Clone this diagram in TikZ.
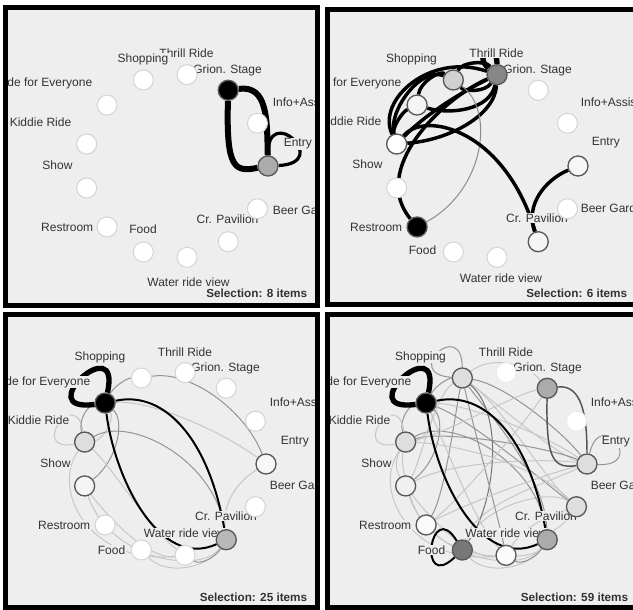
\documentclass[tikz,border=0pt]{standalone}
\usepackage{fontspec}
\setmainfont{Liberation Sans}
\definecolor{panelbg}{HTML}{EEEEEE}
\pgfdeclarelayer{back}
\pgfdeclarelayer{edges}
\pgfdeclarelayer{tags}
\pgfsetlayers{back,edges,tags,main}
\begin{document}
\begin{tikzpicture}[x=0.75pt,y=-0.75pt,
  spot/.style={circle,inner sep=0pt,minimum size=15pt,draw=black!17,line width=0.75pt,fill=white},
  lit/.style={spot,draw=black!65,line width=1pt},
  tag/.style={font=\fontsize{9}{10}\selectfont,text=black!80,fill=panelbg,inner sep=0.4pt},
  tally/.style={font=\fontsize{8.8}{10}\selectfont\bfseries,text=black!80,anchor=east,inner sep=0.4pt},
  panelframe/.style={line width=3.75pt},
  wide/.style={line width=4.5pt},
  firm/.style={line width=2.6pt},
  slim/.style={line width=1.5pt},
  mid/.style={draw=black!42,line width=0.75pt},
  faint/.style={draw=black!22,line width=0.75pt},
  dark/.style={draw=black!67,line width=1.1pt}]
\useasboundingbox (0,0) rectangle (633,610);

\begin{pgfonlayer}{back}
\fill[white] (0,0) rectangle (633,610);
\fill[panelbg] (8,10) rectangle (315,303);
\fill[panelbg] (330,12) rectangle (640,302);
\fill[panelbg] (8,317) rectangle (315,605);
\fill[panelbg] (330,317) rectangle (640,605);
\end{pgfonlayer}

\begin{scope}[shift={(176,166)}]
\node[lit,fill=black!33] (p1en) at (0:92) {};
\node[spot] (p1in) at (-27.7:92) {};
\node[lit,fill=black] (p1gs) at (-55.4:92) {};
\node[spot] (p1th) at (-83.1:92) {};
\node[spot] (p1sh) at (-110.8:92) {};
\node[spot] (p1rf) at (-138.5:92) {};
\node[spot] (p1ki) at (-166.2:92) {};
\node[spot] (p1so) at (166.2:92) {};
\node[spot] (p1re) at (138.5:92) {};
\node[spot] (p1fo) at (110.8:92) {};
\node[spot] (p1wr) at (83.1:92) {};
\node[spot] (p1cp) at (55.4:92) {};
\node[spot] (p1bg) at (27.7:92) {};

\begin{pgfonlayer}{edges}
\draw[wide] (p1gs) .. controls (50,4) and (59,6) .. (p1en);
\draw[wide] (p1gs) .. controls (92,-81) and (91,-46) .. (p1en);
\draw[line width=2.4pt] (p1en) .. controls (157,-3) and (91,-65) .. (p1en);
\end{pgfonlayer}

\begin{pgfonlayer}{tags}
\begin{scope}
\clip (-168,-156) rectangle (139,137);
\node[tag,anchor=west] (p1len) at (107,-22) {Entry};
\node[tag,anchor=west] (p1lin) at (96,-64) {Info+Assistance};
\node[tag] (p1lgs) at (51.5,-96) {Grion. Stage};
\node[tag] (p1lth) at (10.5,-113) {Thrill Ride};
\node[tag] (p1lsh) at (-33,-107) {Shopping};
\node[tag,anchor=east] (p1lrf) at (-83,-83) {Ride for Everyone};
\node[tag,anchor=east] (p1lki) at (-104,-44) {Kiddie Ride};
\node[tag] (p1lso) at (-118.5,-1) {Show};
\node[tag,anchor=east] (p1lre) at (-82,61) {Restroom};
\node[tag] (p1lfo) at (-33,63) {Food};
\node[tag] (p1lwr) at (12.5,116) {Water ride view};
\node[tag] (p1lcp) at (51.5,53) {Cr. Pavilion};
\node[tag,anchor=west] (p1lbg) at (96,44) {Beer Garden};
\node[tally] (p1sel) at (132,127) {Selection: 8 items};
\end{scope}
\end{pgfonlayer}
\end{scope}

\begin{scope}[shift={(486,166)}]
\node[lit,fill=black!3] (p2en) at (0:92) {};
\node[spot] (p2in) at (-27.7:92) {};
\node[spot] (p2gs) at (-55.4:92) {};
\node[lit,fill=black!47] (p2th) at (-83.1:92) {};
\node[lit,fill=black!18] (p2sh) at (-110.8:92) {};
\node[lit,fill=black!4] (p2rf) at (-138.5:92) {};
\node[lit] (p2ki) at (-166.2:92) {};
\node[spot] (p2so) at (166.2:92) {};
\node[lit,fill=black] (p2re) at (138.5:92) {};
\node[spot] (p2fo) at (110.8:92) {};
\node[spot] (p2wr) at (83.1:92) {};
\node[lit,fill=black!4] (p2cp) at (55.4:92) {};
\node[spot] (p2bg) at (27.7:92) {};

\begin{pgfonlayer}{edges}
\draw[firm] (p2th) .. controls (-56,-114) and (-110,-66) .. (p2ki);
\draw[firm] (p2ki) .. controls (-98,-55) and (-65,-100) .. (p2sh);
\draw[firm] (p2th) .. controls (-1,-106) and (-24,-104) .. (p2sh);
\draw[firm] (p2sh) .. controls (-21,-74) and (-1,-74) .. (p2th);
\draw[firm] (p2sh) .. controls (-46,-96) and (-66,-84) .. (p2rf);
\draw[firm] (p2rf) .. controls (-36,-51) and (4,-56) .. (p2th);
\draw[firm] (p2rf) .. controls (-84,-54) and (-94,-38) .. (p2ki);
\draw[firm] (p2ki) .. controls (-56,-56) and (-16,-78) .. (p2th);
\draw[firm] (p2ki) .. controls (-36,-26) and (9,-51) .. (p2th);
\draw[firm] (p2th) .. controls (-46,-66) and (-116,4) .. (p2re);
\draw[black!45,line width=0.75pt] (p2sh) .. controls (9,-56) and (-1,24) .. (p2re);
\draw[firm] (p2ki) .. controls (-61,-56) and (19,-36) .. (p2cp);
\draw[firm] (p2en) .. controls (59,14) and (39,39) .. (p2cp);
\draw[line width=4pt] (p2th) .. controls (-14,-111) and (11,-126) .. (p2th);
\end{pgfonlayer}

\begin{pgfonlayer}{tags}
\begin{scope}
\clip (-156,-154) rectangle (154,136);
\node[tag,anchor=west] (p2len) at (105,-23) {Entry};
\node[tag,anchor=west] (p2lin) at (94,-64) {Info+Assistance};
\node[tag] (p2lgs) at (51.5,-96) {Grion. Stage};
\node[tag] (p2lth) at (10.5,-113) {Thrill Ride};
\node[tag] (p2lsh) at (-74.5,-107) {Shopping};
\node[tag,anchor=east] (p2lrf) at (-84,-83) {Ride for Everyone};
\node[tag,anchor=east] (p2lki) at (-104,-45) {Kiddie Ride};
\node[tag] (p2lso) at (-118.5,-2) {Show};
\node[tag,anchor=east] (p2lre) at (-83,61) {Restroom};
\node[tag,anchor=east] (p2lfo) at (-49,84) {Food};
\node[tag] (p2lwr) at (15,112) {Water ride view};
\node[tag] (p2lcp) at (51,52) {Cr. Pavilion};
\node[tag,anchor=west] (p2lbg) at (94,42) {Beer Garden};
\node[tally] (p2sel) at (142,127) {Selection: 6 items};
\end{scope}
\end{pgfonlayer}
\end{scope}

\begin{scope}[shift={(174,464)}]
\node[lit,fill=black!3] (p3en) at (0:92) {};
\node[spot] (p3in) at (-27.7:92) {};
\node[spot] (p3gs) at (-55.4:92) {};
\node[spot] (p3th) at (-83.1:92) {};
\node[spot] (p3sh) at (-110.8:92) {};
\node[lit,fill=black] (p3rf) at (-138.5:92) {};
\node[lit,fill=black!13] (p3ki) at (-166.2:92) {};
\node[lit,fill=black!4] (p3so) at (166.2:92) {};
\node[spot] (p3re) at (138.5:92) {};
\node[spot] (p3fo) at (110.8:92) {};
\node[spot] (p3wr) at (83.1:92) {};
\node[lit,fill=black!28] (p3cp) at (55.4:92) {};
\node[spot] (p3bg) at (27.7:92) {};

\begin{pgfonlayer}{edges}
\draw[mid] (p3sh) .. controls (16,-94) and (71,-54) .. (p3en);
\draw[mid] (p3rf) .. controls (-59,-79) and (-46,-86) .. (p3sh);
\draw[faint] (p3rf) .. controls (-24,-64) and (46,-34) .. (p3en);
\draw[faint] (p3ki) .. controls (-98,-79) and (-146,-11) .. (p3ki);
\draw[mid] (p3ki) .. controls (-96,-44) and (-86,-59) .. (p3rf);
\draw[faint] (p3rf) .. controls (-59,-44) and (-72,-24) .. (p3ki);
\draw[mid] (p3rf) .. controls (-49,-44) and (-56,-4) .. (p3so);
\draw[faint] (p3ki) .. controls (-124,26) and (-84,101) .. (p3wr);
\draw[faint] (p3ki) .. controls (-59,6) and (-24,66) .. (p3wr);
\draw[mid] (p3ki) .. controls (-44,-49) and (41,-4) .. (p3cp);
\draw[faint] (p3en) .. controls (66,16) and (48,36) .. (p3cp);
\draw[faint] (p3fo) .. controls (-9,111) and (31,106) .. (p3cp);
\draw[faint] (p3so) .. controls (-64,96) and (26,111) .. (p3cp);
\draw[faint] (p3so) .. controls (-64,56) and (-24,96) .. (p3wr);
\draw[mid] (p3wr) .. controls (26,101) and (41,94) .. (p3cp);
\draw[slim] (p3rf) .. controls (-9,-74) and (35,-24) .. (p3cp);
\draw[slim] (p3rf) .. controls (-59,16) and (-14,106) .. (p3cp);
\draw[line width=4pt] (p3rf) .. controls (-52,-136) and (-145,-51) .. (p3rf);
\end{pgfonlayer}

\begin{pgfonlayer}{tags}
\begin{scope}
\clip (-166,-147) rectangle (141,141);
\node[tag,anchor=west] (p3len) at (106,-22) {Entry};
\node[tag,anchor=west] (p3lin) at (95,-62) {Info+Assistance};
\node[tag] (p3lgs) at (51.5,-96) {Grion. Stage};
\node[tag] (p3lth) at (11,-112) {Thrill Ride};
\node[tag] (p3lsh) at (-74,-107) {Shopping};
\node[tag,anchor=east] (p3lrf) at (-83,-82) {Ride for Everyone};
\node[tag,anchor=east] (p3lki) at (-104,-44) {Kiddie Ride};
\node[tag] (p3lso) at (-118.5,-1) {Show};
\node[tag,anchor=east] (p3lre) at (-83,61) {Restroom};
\node[tag,anchor=east] (p3lfo) at (-48,86) {Food};
\node[tag] (p3lwr) at (11,69) {Water ride view};
\node[tag] (p3lcp) at (52,52) {Cr. Pavilion};
\node[tag,anchor=west] (p3lbg) at (95,21) {Beer Garden};
\node[tally] (p3sel) at (134,133) {Selection: 25 items};
\end{scope}
\end{pgfonlayer}
\end{scope}

\begin{scope}[shift={(495,464)}]
\node[lit,fill=black!13] (p4en) at (0:92) {};
\node[spot,draw=black!8] (p4in) at (-27.7:92) {};
\node[lit,fill=black!33] (p4gs) at (-55.4:92) {};
\node[spot,draw=black!8] (p4th) at (-83.1:92) {};
\node[lit,fill=black!13] (p4sh) at (-110.8:92) {};
\node[lit,fill=black] (p4rf) at (-138.5:92) {};
\node[lit,fill=black!13] (p4ki) at (-166.2:92) {};
\node[lit,fill=black!6] (p4so) at (166.2:92) {};
\node[lit,fill=black!2] (p4re) at (138.5:92) {};
\node[lit,fill=black!53] (p4fo) at (110.8:92) {};
\node[lit,fill=black!2] (p4wr) at (83.1:92) {};
\node[lit,fill=black!33] (p4cp) at (55.4:92) {};
\node[lit,fill=black!13] (p4bg) at (27.7:92) {};

\begin{pgfonlayer}{edges}
\draw[mid] (p4sh) .. controls (10,-80) and (70,-30) .. (p4en);
\draw[faint] (p4sh) .. controls (-10,-70) and (60,-10) .. (p4en);
\draw[faint] (p4sh) .. controls (5,-60) and (50,15) .. (p4bg);
\draw[faint] (p4sh) .. controls (-5,-108) and (30,-102) .. (p4gs);
\draw[mid] (p4sh) .. controls (-10,-55) and (50,10) .. (p4cp);
\draw[faint] (p4rf) .. controls (-30,-60) and (50,-30) .. (p4en);
\draw[mid] (p4rf) .. controls (-25,-45) and (45,15) .. (p4bg);
\draw[mid] (p4ki) .. controls (-50,-35) and (60,-15) .. (p4en);
\draw[faint] (p4so) .. controls (-40,-5) and (60,-5) .. (p4en);
\draw[faint] (p4fo) .. controls (-20,40) and (50,20) .. (p4en);
\draw[faint] (p4fo) .. controls (-10,40) and (55,25) .. (p4bg);
\draw[black!55,line width=0.75pt] (p4fo) .. controls (0,40) and (10,-50) .. (p4sh);
\draw[mid] (p4sh) .. controls (-20,-30) and (0,40) .. (p4wr);
\draw[faint] (p4sh) .. controls (-60,-70) and (-75,0) .. (p4so);
\draw[mid] (p4sh) .. controls (-40,-50) and (-50,30) .. (p4re);
\draw[faint] (p4rf) .. controls (-50,-20) and (-20,60) .. (p4wr);
\draw[faint] (p4ki) .. controls (-124,26) and (-84,101) .. (p4wr);
\draw[mid] (p4ki) .. controls (-44,-49) and (41,-4) .. (p4cp);
\draw[faint] (p4so) .. controls (-64,56) and (-24,96) .. (p4wr);
\draw[faint] (p4so) .. controls (-64,96) and (26,111) .. (p4cp);
\draw[faint] (p4re) .. controls (-30,100) and (40,95) .. (p4cp);
\draw[faint] (p4fo) .. controls (-9,111) and (31,106) .. (p4cp);
\draw[mid] (p4wr) .. controls (26,101) and (41,94) .. (p4cp);
\draw[faint] (p4bg) .. controls (70,60) and (60,65) .. (p4cp);
\draw[faint] (p4wr) .. controls (30,60) and (60,50) .. (p4bg);
\draw[faint] (p4gs) .. controls (30,-40) and (-40,40) .. (p4re);
\draw[faint] (p4gs) .. controls (20,-70) and (-50,-30) .. (p4ki);
\draw[mid] (p4rf) .. controls (-59,-79) and (-46,-86) .. (p4sh);
\draw[mid] (p4ki) .. controls (-96,-44) and (-86,-59) .. (p4rf);
\draw[faint] (p4rf) .. controls (-59,-44) and (-72,-24) .. (p4ki);
\draw[mid] (p4rf) .. controls (-49,-44) and (-56,-4) .. (p4so);
\draw[faint] (p4ki) .. controls (-100,-5) and (-100,5) .. (p4so);
\draw[faint] (p4ki) .. controls (-95,0) and (-85,40) .. (p4re);
\draw[faint] (p4bg) .. controls (40,0) and (-40,-20) .. (p4ki);
\draw[faint] (p4re) .. controls (-30,40) and (50,10) .. (p4en);
\draw[faint] (p4ki) .. controls (-98,-79) and (-146,-11) .. (p4ki);
\draw[mid] (p4sh) .. controls (-33,-147) and (-94,-90) .. (p4sh);
\draw[mid] (p4en) .. controls (152,3) and (106,-58) .. (p4en);
\draw[dark] (p4gs) .. controls (51,-5) and (58,5) .. (p4en);
\draw[dark] (p4gs) .. controls (88,-80) and (92,-45) .. (p4en);
\draw[slim] (p4fo) .. controls (-65,33) and (-78,129) .. (p4fo);
\draw[slim] (p4rf) .. controls (-9,-74) and (35,-24) .. (p4cp);
\draw[slim] (p4rf) .. controls (-59,16) and (-14,106) .. (p4cp);
\draw[line width=4pt] (p4rf) .. controls (-52,-136) and (-145,-51) .. (p4rf);
\end{pgfonlayer}

\begin{pgfonlayer}{tags}
\begin{scope}
\clip (-165,-147) rectangle (145,141);
\node[tag,anchor=west] (p4len) at (106,-22) {Entry};
\node[tag,anchor=west] (p4lin) at (95,-62) {Info+Assistance};
\node[tag] (p4lgs) at (52.5,-96) {Grion. Stage};
\node[tag] (p4lth) at (11,-112) {Thrill Ride};
\node[tag] (p4lsh) at (-74.5,-107) {Shopping};
\node[tag,anchor=east] (p4lrf) at (-83,-82) {Ride for Everyone};
\node[tag,anchor=east] (p4lki) at (-104,-44) {Kiddie Ride};
\node[tag] (p4lso) at (-118.5,-1) {Show};
\node[tag,anchor=east] (p4lre) at (-83,61) {Restroom};
\node[tag,anchor=east] (p4lfo) at (-49,86) {Food};
\node[tag] (p4lwr) at (11.5,69) {Water ride view};
\node[tag] (p4lcp) at (51,52) {Cr. Pavilion};
\node[tag,anchor=west] (p4lbg) at (95,21) {Beer Garden};
\node[tally] (p4sel) at (134,133) {Selection: 59 items};
\end{scope}
\end{pgfonlayer}
\end{scope}

\draw[panelframe] (5.5,7.5) rectangle (317.5,305.5);
\draw[panelframe] (327.5,9.5) rectangle (645,304.5);
\draw[panelframe] (5.5,314.5) rectangle (317.5,607.5);
\draw[panelframe] (327.5,314.5) rectangle (645,607.5);
\end{tikzpicture}
\end{document}
